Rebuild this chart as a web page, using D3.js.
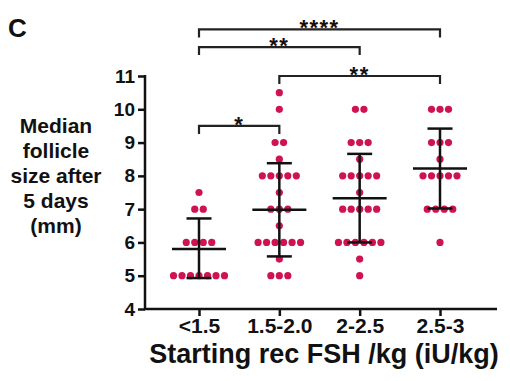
<!DOCTYPE html>
<html>
<head>
<meta charset="utf-8">
<script src="https://cdn.jsdelivr.net/npm/d3@7"></script>
<style>
    body { margin: 0; background: #fff; }
    text { font-family: "Liberation Sans", Arial, sans-serif; font-weight: bold; fill: #111; }
</style>
</head>
<body>
<svg id="chart" width="510" height="381"></svg>
<script>
// groups on the x axis
var categories = ["<1.5", "1.5-2.0", "2-2.5", "2.5-3"];

// individual follicle sizes (mm) per group
var sizesLow = [7.5, 7, 7, 6, 6, 6, 6, 5, 5, 5, 5, 5, 5, 5];
var sizesMid1 = [10.5, 10, 9, 9, 8.5, 8, 8, 8, 8, 8, 7.5, 7, 7, 7, 6.5,
                 6, 6, 6, 6, 6, 6, 5.5, 5, 5, 5];
var sizesMid2 = [10, 10, 9, 9, 9, 8.5, 8, 8, 8, 8, 8, 7.5, 7, 7, 7, 7, 7,
                 6, 6, 6, 6, 6, 6, 5.5, 5];
var sizesHigh = [10, 10, 10, 9, 9, 9, 8.5, 8, 8, 8, 8, 8, 7, 7, 7, 7, 6];
var groupSizes = [sizesLow, sizesMid1, sizesMid2, sizesHigh];

// mean and +/- SD per group
var means = [5.8, 6.98, 7.33, 8.22];
var sdLow = [4.93, 5.58, 6.0, 7.02];
var sdHigh = [6.72, 8.38, 8.66, 9.42];

var yTicks = [4, 5, 6, 7, 8, 9, 10, 11];

// significance brackets (group index from/to, height in mm, stars)
var compFrom = [0, 1, 0, 0];
var compTo = [1, 3, 2, 3];
var compLevel = [9.5, 11.0, 11.87, 12.4];
var compLabel = ["*", "**", "**", "****"];

var yLabelLines = ["Median", "follicle", "size after", "5 days", "(mm)"];

var dotColor = "#cf1250";

var svg = d3.select("#chart");

var x = d3.scalePoint()
    .domain(categories)
    .range([199, 440]);

var y = d3.scaleLinear()
    .domain([4, 11])
    .range([309, 76]);

var axisLeftX = 145;
var axisRightX = 497;

// panel letter
svg.append("text")
    .attr("x", 8)
    .attr("y", 37)
    .style("font-size", "26px")
    .text("C");

// y axis
var yAxis = svg.append("g")
    .attr("transform", "translate(" + axisLeftX + ",0)")
    .call(d3.axisLeft(y).tickValues(yTicks).tickSize(7).tickPadding(3).tickFormat(d3.format("d")));
yAxis.select(".domain").remove();
yAxis.selectAll(".tick line").attr("stroke", "#111").attr("stroke-width", 2.5);
yAxis.selectAll(".tick text")
    .attr("fill", "#111")
    .style("font-size", "19px")
    .style("font-family", "'Liberation Sans', Arial, sans-serif")
    .style("font-weight", "bold");

svg.append("line")
    .attr("x1", axisLeftX).attr("x2", axisLeftX)
    .attr("y1", y(11) - 1).attr("y2", y(4))
    .attr("stroke", "#111").attr("stroke-width", 2.5);

// x axis
var xAxis = svg.append("g")
    .attr("transform", "translate(0," + y(4) + ")")
    .call(d3.axisBottom(x).tickSize(7).tickPadding(2));
xAxis.select(".domain").remove();
xAxis.selectAll(".tick line").attr("stroke", "#111").attr("stroke-width", 2.5);
xAxis.selectAll(".tick text")
    .attr("fill", "#111")
    .style("font-size", "21px")
    .style("font-family", "'Liberation Sans', Arial, sans-serif")
    .style("font-weight", "bold");

svg.append("line")
    .attr("x1", axisLeftX - 1).attr("x2", axisRightX)
    .attr("y1", y(4)).attr("y2", y(4))
    .attr("stroke", "#111").attr("stroke-width", 2.5);

// axis titles
svg.append("text")
    .attr("x", 324)
    .attr("y", 363)
    .attr("text-anchor", "middle")
    .style("font-size", "27px")
    .text("Starting rec FSH /kg (iU/kg)");

svg.append("g").selectAll("text")
    .data(yLabelLines)
    .enter().append("text")
    .attr("x", 56)
    .attr("y", function (d, i) { return 133 + i * 25; })
    .attr("text-anchor", "middle")
    .style("font-size", "21px")
    .text(function (d) { return d; });

// dots, stacked side by side in rows of equal value
var spacing = 8.5;
var dots = [];
groupSizes.forEach(function (sizes, gi) {
    var rows = d3.group(sizes, function (v) { return v; });
    rows.forEach(function (vals, v) {
        vals.forEach(function (val, k) {
            dots.push({cat: categories[gi], value: v, offset: (k - (vals.length - 1) / 2) * spacing});
        });
    });
});

svg.append("g").selectAll("circle")
    .data(dots)
    .enter().append("circle")
    .attr("cx", function (d) { return x(d.cat) + d.offset; })
    .attr("cy", function (d) { return y(d.value); })
    .attr("r", 3.6)
    .attr("fill", dotColor);

// mean +/- SD bars
var bars = svg.append("g")
    .attr("stroke", "#111")
    .attr("stroke-width", 2.5);

categories.forEach(function (c, i) {
    var cx = x(c);
    bars.append("line")
        .attr("x1", cx).attr("x2", cx)
        .attr("y1", y(sdLow[i])).attr("y2", y(sdHigh[i]));
    bars.append("line")
        .attr("x1", cx - 27).attr("x2", cx + 27)
        .attr("y1", y(means[i])).attr("y2", y(means[i]));
    [sdLow[i], sdHigh[i]].forEach(function (v) {
        bars.append("line")
            .attr("x1", cx - 12.5).attr("x2", cx + 12.5)
            .attr("y1", y(v)).attr("y2", y(v));
    });
});

// significance brackets
var brackets = svg.append("g");
compLabel.forEach(function (lab, i) {
    var x1 = x(categories[compFrom[i]]);
    var x2 = x(categories[compTo[i]]);
    var by = y(compLevel[i]);
    brackets.append("path")
        .attr("d", "M" + x1 + "," + (by + 8) + "V" + by + "H" + x2 + "V" + (by + 8))
        .attr("fill", "none")
        .attr("stroke", "#222")
        .attr("stroke-width", 2.2);
    brackets.append("text")
        .attr("x", (x1 + x2) / 2)
        .attr("y", by + 6)
        .attr("text-anchor", "middle")
        .style("font-size", "22px")
        .style("letter-spacing", "1.5px")
        .text(lab);
});
</script>
</body>
</html>
